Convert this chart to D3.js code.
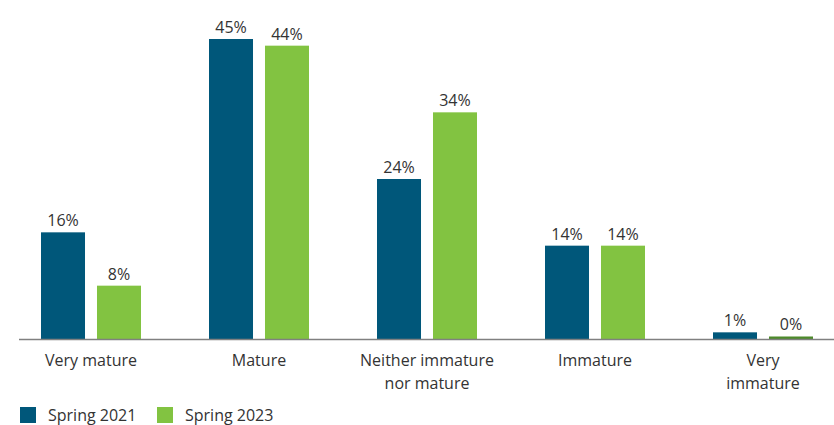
<!DOCTYPE html>
<html>
<head>
<meta charset="utf-8">
<script src="https://cdn.jsdelivr.net/npm/d3@7/dist/d3.min.js"></script>
<style>
  html, body { margin: 0; padding: 0; background: #fff; }
  svg { display: block; font-family: "Open Sans", sans-serif; }
</style>
</head>
<body>
<svg id="chart" width="834" height="425"></svg>
<script>
// Maturity ratings by survey wave
const categories = [["Very mature"], ["Mature"], ["Neither immature", "nor mature"], ["Immature"], ["Very", "immature"]];
const seriesNames = ["Spring 2021", "Spring 2023"];
const spring2021 = [16, 45, 24, 14, 1];
const spring2023 = [8, 44, 34, 14, 0];
const colors = ["#00577a", "#82c341"];

const svg = d3.select("#chart");
const baseline = 339;
const fontSize = 16;

const x = d3.scaleBand()
  .domain(d3.range(categories.length))
  .range([7, 847]);

const xInner = d3.scaleBand()
  .domain(seriesNames)
  .range([x.bandwidth() / 2 - 50, x.bandwidth() / 2 + 50])
  .paddingInner(0.214);

const y = d3.scaleLinear().domain([0, 45]).range([baseline, 39]);

const rows = categories.map((c, i) => ({
  i,
  values: [
    { name: seriesNames[0], v: spring2021[i], color: colors[0] },
    { name: seriesNames[1], v: spring2023[i], color: colors[1] }
  ]
}));

const groups = svg.append("g").selectAll("g")
  .data(rows).join("g")
  .attr("transform", d => `translate(${x(d.i)},0)`);

groups.selectAll("rect")
  .data(d => d.values).join("rect")
  .attr("x", d => xInner(d.name))
  .attr("width", xInner.bandwidth())
  .attr("y", d => d.v === 0 ? baseline - 2.5 : y(d.v))
  .attr("height", d => d.v === 0 ? 2.5 : baseline - y(d.v))
  .attr("fill", d => d.v === 0 ? "#4d8a2a" : d.color);

groups.selectAll("text.val")
  .data(d => d.values).join("text")
  .attr("class", "val")
  .attr("x", d => xInner(d.name) + xInner.bandwidth() / 2)
  .attr("y", d => y(d.v) - (d.v === 0 ? 9 : 6))
  .attr("text-anchor", "middle")
  .attr("font-size", fontSize)
  .attr("fill", "#333")
  .text(d => d.v + "%");

// Baseline axis
svg.append("line")
  .attr("x1", 19).attr("x2", 834)
  .attr("y1", baseline + 0.5).attr("y2", baseline + 0.5)
  .attr("stroke", "#808080").attr("stroke-width", 1.5);

// Category labels
const xLabels = svg.append("g").selectAll("text")
  .data(rows).join("text")
  .attr("x", d => x(d.i) + x.bandwidth() / 2)
  .attr("y", 365.5)
  .attr("text-anchor", "middle")
  .attr("font-size", fontSize)
  .attr("fill", "#333");

xLabels.selectAll("tspan")
  .data(d => categories[d.i]).join("tspan")
  .attr("x", function() { return this.parentNode.getAttribute("x"); })
  .attr("dy", (d, j) => j === 0 ? 0 : 23)
  .text(d => d);

// Legend
const legend = svg.append("g").attr("transform", "translate(20,407)");
const legendX = [0, 137];
seriesNames.forEach((name, k) => {
  const g = legend.append("g").attr("transform", `translate(${legendX[k]},0)`);
  g.append("rect").attr("width", 16).attr("height", 16).attr("fill", colors[k]);
  g.append("text").attr("x", 28).attr("y", 14)
    .attr("font-size", fontSize).attr("fill", "#333").text(name);
});
</script>
</body>
</html>
